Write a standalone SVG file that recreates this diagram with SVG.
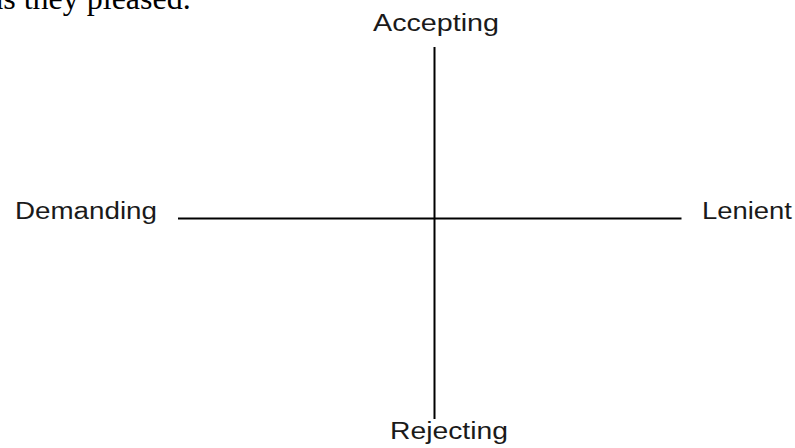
<svg xmlns="http://www.w3.org/2000/svg" width="795" height="448" viewBox="0 0 795 448">
<style>
.lbl{font-family:"Liberation Sans",Arial,sans-serif;font-size:23.5px;fill:#1a1a1a}
.ax{stroke:#000;stroke-width:2;fill:none}
.body{font-family:"Liberation Serif","Times New Roman",serif;font-size:32px;fill:#000}
</style>
<rect width="795" height="448" fill="#fff"/>
<text class="body" x="-11" y="9">as they pleased.</text>
<g id="connectors">
<line class="ax" x1="434.5" y1="47" x2="434.5" y2="419"/>
<line class="ax" x1="178" y1="218.5" x2="681.5" y2="218.5"/>
</g>
<g id="accepting"><text class="lbl" x="373" y="30.5" textLength="126" lengthAdjust="spacingAndGlyphs">Accepting</text></g>
<g id="demanding"><text class="lbl" x="15" y="219" textLength="142" lengthAdjust="spacingAndGlyphs">Demanding</text></g>
<g id="lenient"><text class="lbl" x="702" y="219" textLength="90" lengthAdjust="spacingAndGlyphs">Lenient</text></g>
<g id="rejecting"><text class="lbl" x="390" y="438.5" textLength="118" lengthAdjust="spacingAndGlyphs">Rejecting</text></g>
</svg>
